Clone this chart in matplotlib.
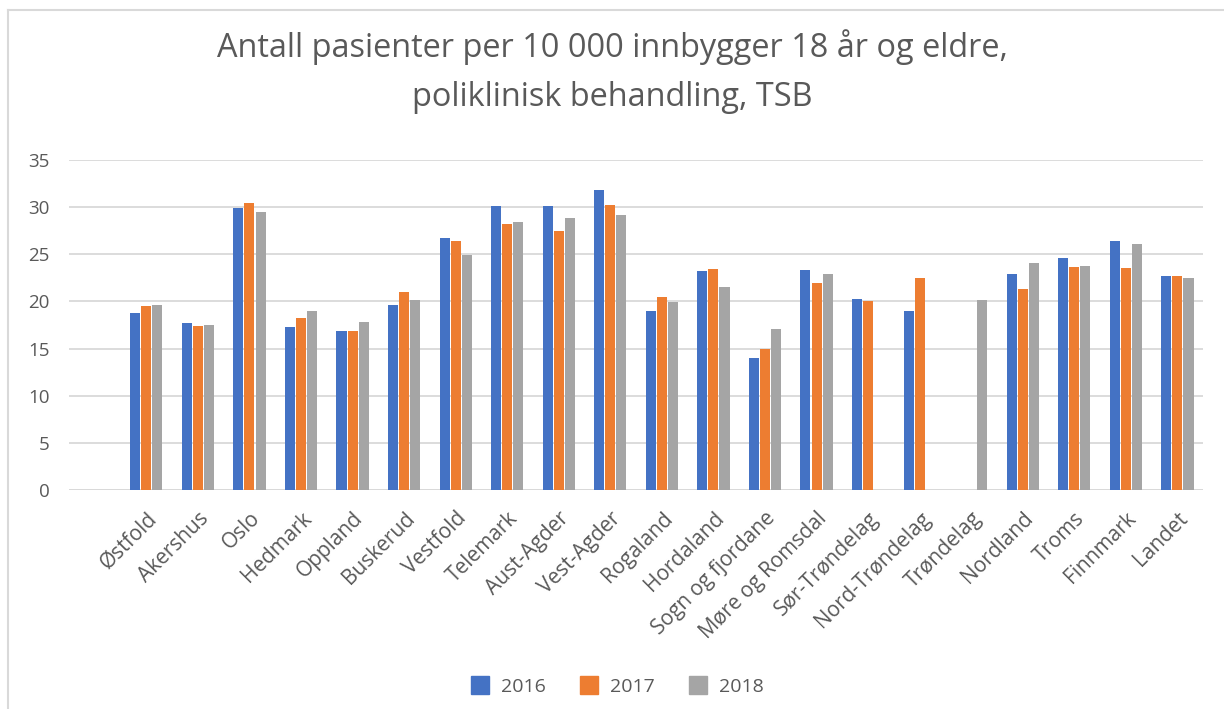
import numpy as np
import matplotlib.pyplot as plt
from matplotlib.lines import Line2D

plt.rcParams['font.family'] = ['Open Sans', 'DejaVu Sans']

fylker = ['Østfold', 'Akershus', 'Oslo', 'Hedmark', 'Oppland', 'Buskerud', 'Vestfold',
          'Telemark', 'Aust-Agder', 'Vest-Agder', 'Rogaland', 'Hordaland',
          'Sogn og fjordane', 'Møre og Romsdal', 'Sør-Trøndelag', 'Nord-Trøndelag',
          'Trøndelag', 'Nordland', 'Troms', 'Finnmark', 'Landet']
nan = np.nan
# antall pasienter per 10 000 innbyggere
v2016 = [18.8, 17.7, 29.9, 17.3, 16.9, 19.6, 26.7, 30.1, 30.1, 31.8, 19.0, 23.2,
         14.0, 23.3, 20.3, 19.0, nan, 22.9, 24.6, 26.4, 22.7]
v2017 = [19.5, 17.4, 30.4, 18.2, 16.9, 21.0, 26.4, 28.2, 27.5, 30.2, 20.5, 23.4,
         15.0, 22.0, 20.0, 22.5, nan, 21.3, 23.6, 23.5, 22.7]
v2018 = [19.6, 17.5, 29.5, 19.0, 17.8, 20.1, 24.9, 28.4, 28.8, 29.2, 19.9, 21.5,
         17.1, 22.9, nan, nan, 20.2, 24.1, 23.8, 26.1, 22.5]
years = ['2016', '2017', '2018']
colors = ['#4472C4', '#ED7D31', '#A5A5A5']

fig = plt.figure(figsize=(12.24, 7.09), dpi=100)
ax = fig.add_axes([0.0564, 0.3089, 0.9266, 0.4654])

x = np.arange(len(fylker))
w = 0.195
step = 0.215
for i, (vals, c) in enumerate(zip([v2016, v2017, v2018], colors)):
    ax.bar(x + (i - 1) * step, vals, width=w, color=c, label=years[i], zorder=3)

ax.set_xlim(-1.5, len(fylker) - 0.5)
ax.set_ylim(0, 35)
ax.set_yticks(range(0, 36, 5))
ax.grid(axis='y', color='#d9d9d9', linewidth=1.3, zorder=0)
for s in ax.spines.values():
    s.set_visible(False)
ax.axhline(0, color='#d9d9d9', linewidth=1.3, zorder=1)
ax.tick_params(axis='both', length=0, labelsize=13.5, colors='#595959', pad=14)
ax.tick_params(axis='x', pad=13)
ax.set_xticks(x)
ax.set_xticklabels(fylker, rotation=45, ha='right', rotation_mode='anchor', fontsize=15)

fig.text(0.5, 0.899, 'Antall pasienter per 10 000 innbygger 18 år og eldre,\npoliklinisk behandling, TSB',
         ha='center', va='center', fontsize=23.4, color='#595959', linespacing=1.62)

handles = [Line2D([], [], marker='s', linestyle='', markersize=13, color=c) for c in colors]
fig.legend(handles, years, loc='center', bbox_to_anchor=(0.5, 0.031), ncol=3,
           frameon=False, fontsize=14, handletextpad=0.1, columnspacing=1.2,
           labelcolor='#595959')

# ramme rundt diagrammet
fig.add_artist(Line2D([8 / 1224, 1], [1 - 10 / 709, 1 - 10 / 709], transform=fig.transFigure,
                      color='#d9d9d9', linewidth=1.5))
fig.add_artist(Line2D([8 / 1224, 8 / 1224], [0, 1 - 10 / 709], transform=fig.transFigure,
                      color='#d9d9d9', linewidth=1.5))

fig.savefig('out.png', dpi=100, facecolor='white')
